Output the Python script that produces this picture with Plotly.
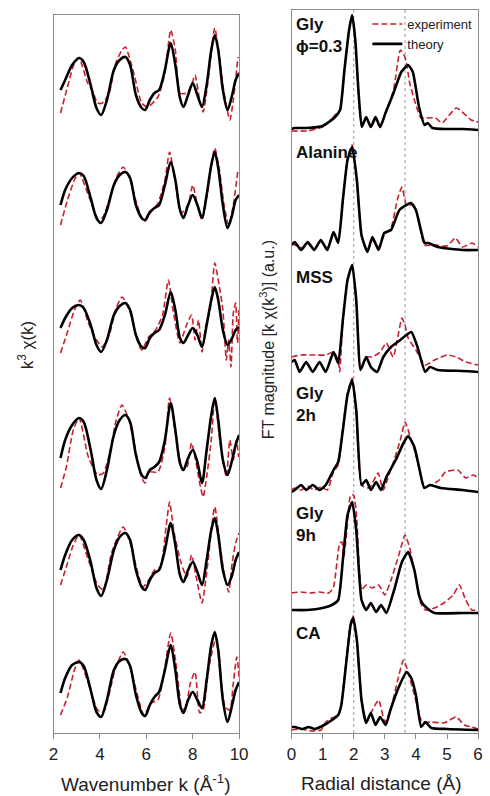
import plotly.graph_objects as go

# ---------------- Left panel: k^3 chi(k) ----------------
k_theory = [2.3, 2.5, 2.8, 3.1, 3.3, 3.6, 3.85, 4.05, 4.3, 4.6, 4.85, 5.1, 5.3, 5.55, 5.8, 5.95,
            6.15, 6.35, 6.55, 6.8, 7.05, 7.25, 7.45, 7.6, 7.8, 8.0, 8.2, 8.4, 8.6, 8.8, 8.95,
            9.1, 9.3, 9.5, 9.7, 9.85, 10.0]

chi_theory_gly03 = [-5, 5, 20, 27, 23, 0, -23, -30, -15, 15, 25, 28, 20, -10, -23, -25, -15, -8, -5, 15, 42,
                    20, -13, -22, -10, 2, -10, -22, 0, 35, 50, 35, -5, -25, -10, 5, 12]
chi_theory_ala = [-5, 10, 22, 27, 24, 2, -18, -23, -10, 15, 25, 28, 22, -5, -18, -20, -12, -8, -5, 15, 38,
                  20, -10, -18, -5, 5, -5, -18, 5, 35, 48, 32, -5, -28, -15, 0, 5]
chi_theory_mss = [-3, 7, 17, 20, 17, 0, -20, -27, -15, 10, 19, 22, 15, -10, -22, -23, -13, -8, -5, 10, 33,
                  15, -13, -18, -10, -3, -10, -22, 0, 25, 38, 25, -5, -20, -13, -5, -2]
chi_theory_gly2h = [-8, 10, 25, 32, 28, 0, -30, -39, -20, 15, 30, 35, 28, -5, -25, -28, -20, -17, -12, 10, 47,
                    20, -13, -20, -8, 0, -12, -33, 0, 35, 52, 30, -10, -25, -10, 5, 15]
chi_theory_gly9h = [-10, 5, 20, 25, 20, -2, -28, -36, -20, 10, 23, 27, 20, -10, -27, -30, -20, -13, -10, 10, 37,
                    15, -15, -22, -10, -2, -12, -25, 0, 30, 42, 25, -10, -25, -15, 0, 8]
chi_theory_ca = [-3, 12, 25, 28, 24, 0, -22, -27, -10, 20, 29, 31, 24, -5, -23, -26, -15, -7, -2, 20, 45,
                 20, -15, -23, -10, -2, -10, -18, 10, 45, 58, 40, -10, -32, -15, 0, 8]

k_exp_gly03 = [2.3, 2.6, 2.9, 3.1, 3.45, 3.7, 3.9, 4.1, 4.4, 4.65, 4.95, 5.1, 5.3, 5.5, 5.8, 6.05, 6.5, 6.8,
               7.05, 7.25, 7.45, 7.75, 7.95, 8.1, 8.3, 8.45, 8.65, 8.95, 9.15, 9.35, 9.6, 9.75, 9.95]
chi_exp_gly03 = [-28, -2, 22, 27, 3, -7, -18, -18, -8, 20, 35, 38, 25, 8, -18, -22, -12, 12, 55, 35, -8, -8,
                 0, 10, -15, -27, 2, 57, 28, -8, -35, -15, 28]
k_exp_ala = [2.3, 2.6, 2.9, 3.1, 3.5, 3.9, 4.1, 4.4, 4.7, 5.0, 5.3, 5.6, 5.9, 6.2, 6.5, 6.8, 7.0, 7.2, 7.5,
             7.8, 8.0, 8.2, 8.4, 8.65, 8.95, 9.15, 9.35, 9.55, 9.75, 9.95]
chi_exp_ala = [-25, 0, 20, 27, 5, -18, -18, 0, 22, 33, 20, -5, -22, -12, -3, 20, 48, 25, -13, -5, 15, -5,
               -20, 10, 52, 30, -5, -25, -5, 30]
k_exp_mss = [2.3, 2.6, 2.9, 3.15, 3.5, 3.85, 4.1, 4.4, 4.7, 4.95, 5.3, 5.6, 5.8, 6.1, 6.4, 6.7, 6.95, 7.15,
             7.45, 7.7, 7.95, 8.1, 8.25, 8.4, 8.55, 8.75, 8.95, 9.15, 9.3, 9.45, 9.55, 9.65, 9.75, 9.85,
             9.93, 10.0]
chi_exp_mss = [-28, -7, 15, 25, 2, -15, -22, -10, 17, 28, 13, -15, -25, -12, -5, 10, 45, 15, -18, -2, 10,
               -15, 5, -27, -2, 15, 62, 38, 15, -35, -15, -42, 12, 22, -18, 18]
k_exp_gly2h = [2.3, 2.55, 2.85, 3.1, 3.5, 3.9, 4.15, 4.45, 4.7, 4.95, 5.25, 5.8, 5.95, 6.1, 6.5, 6.8, 7.0,
               7.3, 7.55, 7.75, 7.95, 8.1, 8.3, 8.45, 8.6, 8.8, 8.95, 9.15, 9.3, 9.45, 9.6, 9.75, 9.88, 9.98]
chi_exp_gly2h = [-38, -17, 20, 32, -7, -25, -23, 0, 30, 45, 30, -28, -33, -22, -22, 3, 52, 10, -20, -17, 7,
                 -7, -33, -47, -27, 10, 52, 13, -10, -27, 10, -10, 10, -7]
k_exp_gly9h = [2.3, 2.55, 2.85, 3.1, 3.5, 3.9, 4.15, 4.5, 5.0, 5.3, 5.85, 6.1, 6.35, 6.6, 6.85, 7.0, 7.2,
               7.5, 7.75, 7.95, 8.15, 8.4, 8.6, 8.95, 9.15, 9.35, 9.55, 9.7, 9.85, 10.0]
chi_exp_gly9h = [-25, -7, 15, 25, 0, -25, -30, 7, 33, 17, -27, -20, -10, -7, 33, 58, 27, -3, -17, 5, -17,
                 -43, -13, 53, 20, -13, -32, -3, 17, 27]
k_exp_ca = [2.3, 2.6, 2.9, 3.1, 3.5, 3.9, 4.15, 4.65, 5.0, 5.3, 5.9, 6.2, 6.5, 6.8, 7.05, 7.3, 7.55, 7.7,
            7.9, 8.1, 8.3, 8.45, 8.7, 9.0, 9.2, 9.4, 9.6, 9.75, 9.9, 10.0]
chi_exp_ca = [-25, -7, 20, 30, 7, -20, -22, 20, 38, 23, -25, -13, -10, 23, 57, 23, -20, -17, 7, 18, -23,
              -20, 23, 52, 13, -17, -20, 7, 33, 13]

chi_offsets = [648, 533, 408, 283, 173, 43]

# ---------------- Right panel: FT magnitude ----------------
ft_labels = ["Gly<br>\u03d5=0.3", "Alanine", "MSS", "Gly<br>2h", "Gly<br>9h", "CA"]
ft_offsets = [605, 483, 361, 243, 121, 5]
shell_positions = [2.0, 3.65]

r_theory_gly03 = [0, 0.1, 0.5, 1.0, 1.2, 1.4, 1.56, 1.7, 1.85, 1.95, 2.05, 2.15, 2.26, 2.4, 2.55, 2.7, 2.85,
                  3.02, 3.28, 3.53, 3.75, 3.9, 4.1, 4.28, 4.38, 4.53, 5.0, 5.5, 6.0]
ft_theory_gly03 = [-1, 0, 0, 2, 6, 11, 18, 58, 98, 113, 88, 38, 1, 11, 1, 11, 1, 15, 35, 56, 63, 56, 21, 3, 5,
                   0, -1, -1, -2]
r_exp_gly03 = [0, 0.5, 1.0, 1.2, 1.4, 1.56, 1.7, 1.85, 1.95, 2.05, 2.15, 2.26, 2.4, 2.55, 2.7, 2.85, 3.02,
               3.28, 3.5, 3.66, 3.8, 4.0, 4.16, 4.3, 4.63, 4.84, 5.3, 5.78, 6.0]
ft_exp_gly03 = [-3, -3, 1, 6, 13, 18, 58, 98, 113, 86, 36, 1, 10, 1, 8, 1, 15, 38, 78, 70, 45, 23, 10, 10,
                10, 5, 20, 8, 6]

r_theory_ala = [0, 0.1, 0.31, 0.52, 0.73, 0.94, 1.15, 1.35, 1.5, 1.65, 1.8, 1.95, 2.1, 2.25, 2.44, 2.6, 2.8,
                2.98, 3.2, 3.47, 3.84, 4.0, 4.28, 4.4, 4.7, 5.5, 6.0]
ft_theory_ala = [5, 8, 0, 8, 0, 10, 0, 18, 7, 50, 90, 103, 70, 15, -2, 13, 0, 17, 20, 40, 47, 40, 7, 7, 3,
                 0, 0]
r_exp_ala = [0, 0.1, 0.31, 0.52, 0.73, 0.94, 1.15, 1.35, 1.5, 1.65, 1.8, 1.95, 2.1, 2.25, 2.44, 2.6, 2.8,
             2.98, 3.2, 3.4, 3.55, 3.7, 3.9, 4.05, 4.28, 4.6, 5.0, 5.27, 5.5, 5.8, 6.0]
ft_exp_ala = [7, 5, 2, 6, 1, 8, 2, 15, 10, 52, 92, 105, 68, 14, 0, 10, 3, 15, 22, 50, 63, 45, 45, 35, 5, 5,
              4, 12, 3, 7, 3]

r_theory_mss = [0, 0.1, 0.26, 0.47, 0.68, 0.9, 1.1, 1.35, 1.5, 1.65, 1.8, 1.95, 2.08, 2.22, 2.4, 2.55,
                2.75, 2.95, 3.2, 3.5, 3.85, 4.05, 4.3, 4.45, 4.7, 5.5, 6.0]
ft_theory_mss = [10, 12, 0, 10, 0, 10, 0, 20, 9, 52, 92, 107, 72, 2, 15, 5, 0, 15, 25, 32, 40, 25, 0, 5, 2,
                 1, 0]
r_exp_mss = [0, 0.3, 0.7, 1.1, 1.35, 1.5, 1.55, 1.65, 1.8, 1.95, 2.08, 2.22, 2.4, 2.6, 2.85, 3.05, 3.27,
             3.55, 3.65, 3.75, 4.0, 4.3, 4.6, 5.0, 5.3, 5.6, 6.0]
ft_exp_mss = [15, 17, 17, 17, 20, 12, 0, 52, 92, 107, 72, 4, 15, 15, 20, 29, 15, 54, 47, 34, 22, 7, 12, 17,
              15, 10, 7]

r_theory_gly2h = [0, 0.1, 0.31, 0.47, 0.68, 0.9, 1.1, 1.35, 1.5, 1.65, 1.8, 1.95, 2.08, 2.25, 2.4, 2.55,
                  2.72, 2.88, 3.05, 3.35, 3.6, 3.75, 3.95, 4.1, 4.27, 4.45, 4.8, 5.5, 6.0]
ft_theory_gly2h = [-2, 0, 5, 0, 5, 0, 5, 20, 28, 60, 95, 110, 80, 5, 10, 0, 8, 0, 13, 30, 47, 54, 43, 23, 2,
                   5, 2, 0, -2]
r_exp_gly2h = [0, 0.1, 0.31, 0.52, 0.73, 0.94, 1.15, 1.35, 1.5, 1.65, 1.8, 1.95, 2.08, 2.25, 2.5, 2.78,
               2.95, 3.1, 3.3, 3.5, 3.65, 3.8, 4.0, 4.15, 4.27, 4.5, 4.75, 4.95, 5.35, 5.6, 5.85, 6.0]
ft_exp_gly2h = [0, 2, 0, 4, 0, 3, 0, 18, 25, 62, 97, 112, 80, 5, 2, 17, 0, 12, 30, 50, 68, 55, 35, 15, 3, 5,
                10, 18, 20, 12, 15, 12]

r_theory_gly9h = [0, 0.5, 1.0, 1.3, 1.5, 1.65, 1.8, 1.95, 2.08, 2.25, 2.4, 2.55, 2.72, 2.88, 3.05, 3.3, 3.55,
                  3.75, 3.95, 4.1, 4.2, 4.35, 4.6, 5.5, 6.0]
ft_theory_gly9h = [2, 2, 4, 7, 12, 52, 97, 110, 82, 12, 2, 9, 0, 7, -1, 22, 50, 60, 42, 17, 9, 4, -1, -1, -1]
r_exp_gly9h = [0, 0.3, 0.6, 0.9, 1.2, 1.35, 1.55, 1.62, 1.68, 1.78, 1.9, 2.0, 2.1, 2.25, 2.4, 2.6, 2.8, 3.0,
               3.2, 3.45, 3.65, 3.8, 4.0, 4.15, 4.3, 4.6, 4.9, 5.2, 5.4, 5.6, 5.8, 6.0]
ft_exp_gly9h = [19, 20, 19, 20, 19, 25, 69, 70, 55, 82, 117, 117, 92, 22, 27, 24, 27, 17, 32, 57, 77, 64, 32,
                9, 2, 4, 9, 17, 27, 12, 2, 2]

r_theory_ca = [0, 0.1, 0.35, 0.55, 0.75, 1.05, 1.3, 1.5, 1.6, 1.75, 1.9, 1.98, 2.1, 2.25, 2.4, 2.55, 2.7,
               2.85, 3.03, 3.18, 3.45, 3.7, 3.85, 4.0, 4.17, 4.3, 4.5, 5.0, 6.0]
ft_theory_ca = [1, 1, -1, 1, -1, 3, 8, 13, 23, 63, 103, 110, 88, 28, 5, 15, 3, 11, 3, 18, 41, 56, 50, 33, 1,
                6, 0, -1, -2]
r_exp_ca = [0, 0.3, 0.6, 0.95, 1.1, 1.3, 1.5, 1.6, 1.75, 1.9, 1.98, 2.1, 2.25, 2.4, 2.55, 2.8, 3.0, 3.18,
            3.4, 3.6, 3.75, 3.95, 4.2, 4.5, 4.9, 5.3, 5.55, 5.8, 6.0]
ft_exp_ca = [-2, -1, -3, -2, 6, 10, 13, 23, 65, 105, 112, 88, 28, 6, 15, 28, 6, 18, 46, 68, 56, 33, 6, 6, 5,
             11, 3, 1, -1]

k_tick_vals = [2, 4, 6, 8, 10]
r_tick_vals = [0, 1, 2, 3, 4, 5, 6]

chi_theory = [chi_theory_gly03, chi_theory_ala, chi_theory_mss, chi_theory_gly2h, chi_theory_gly9h, chi_theory_ca]
chi_exp = [(k_exp_gly03, chi_exp_gly03), (k_exp_ala, chi_exp_ala), (k_exp_mss, chi_exp_mss),
           (k_exp_gly2h, chi_exp_gly2h), (k_exp_gly9h, chi_exp_gly9h), (k_exp_ca, chi_exp_ca)]
ft_theory = [(r_theory_gly03, ft_theory_gly03), (r_theory_ala, ft_theory_ala), (r_theory_mss, ft_theory_mss),
             (r_theory_gly2h, ft_theory_gly2h), (r_theory_gly9h, ft_theory_gly9h), (r_theory_ca, ft_theory_ca)]
ft_exp = [(r_exp_gly03, ft_exp_gly03), (r_exp_ala, ft_exp_ala), (r_exp_mss, ft_exp_mss),
          (r_exp_gly2h, ft_exp_gly2h), (r_exp_gly9h, ft_exp_gly9h), (r_exp_ca, ft_exp_ca)]

RED = "#c8202e"
BLACK = "#000000"
FONT = "Liberation Sans, Arial, sans-serif"
W, H = 490, 796

fig = go.Figure()

for i in range(6):
    off = chi_offsets[i]
    kx, ky = chi_exp[i]
    fig.add_trace(go.Scatter(x=kx, y=[v + off for v in ky], mode="lines", xaxis="x", yaxis="y",
                             line=dict(color=RED, width=1.6, dash="6px,3px", shape="spline", smoothing=0.6),
                             showlegend=False, hoverinfo="skip"))
    fig.add_trace(go.Scatter(x=k_theory, y=[v + off for v in chi_theory[i]], mode="lines", xaxis="x", yaxis="y",
                             line=dict(color=BLACK, width=2.6, shape="spline", smoothing=0.8),
                             showlegend=False, hoverinfo="skip"))

for i in range(6):
    off = ft_offsets[i]
    rx, ry = ft_exp[i]
    tx, ty = ft_theory[i]
    fig.add_trace(go.Scatter(x=rx, y=[v + off for v in ry], mode="lines", xaxis="x2", yaxis="y2",
                             name="experiment",
                             line=dict(color=RED, width=1.6, dash="6px,3px", shape="spline", smoothing=0.5),
                             showlegend=(i == 0), hoverinfo="skip"))
    fig.add_trace(go.Scatter(x=tx, y=[v + off for v in ty], mode="lines", xaxis="x2", yaxis="y2",
                             name="theory",
                             line=dict(color=BLACK, width=2.6, shape="spline", smoothing=0.5),
                             showlegend=(i == 0), hoverinfo="skip"))

def px_x(p):
    return p / W

def px_y(p):
    return 1 - p / H

axis_common = dict(showgrid=False, zeroline=False, showline=True, linecolor="#8c8c8c", linewidth=1.3,
                   mirror=True)

fig.update_layout(
    width=W, height=H,
    margin=dict(l=0, r=0, t=0, b=0),
    paper_bgcolor="white", plot_bgcolor="white",
    font=dict(family=FONT, size=17, color="#222222"),
    xaxis=dict(domain=[px_x(50), px_x(241)], range=[2, 10], tickvals=k_tick_vals, ticks="outside",
               ticklen=5, tickcolor="#8c8c8c", tickfont=dict(size=17, color="#222222"), **axis_common),
    yaxis=dict(domain=[px_y(733), px_y(15)], range=[0, 718], showticklabels=False, ticks="", **axis_common),
    xaxis2=dict(domain=[px_x(295), px_x(487)], range=[0, 6], tickvals=r_tick_vals, ticks="outside",
                ticklen=5, tickcolor="#8c8c8c", tickfont=dict(size=17, color="#222222"), anchor="y2",
                **axis_common),
    yaxis2=dict(domain=[px_y(733), px_y(10)], range=[0, 723], showticklabels=False, ticks="", anchor="x2",
                **axis_common),
    legend=dict(x=px_x(373), y=px_y(9), xanchor="left", yanchor="top", bgcolor="rgba(0,0,0,0)",
                font=dict(size=13, color="#222222"), tracegroupgap=0, itemwidth=30),
    showlegend=True,
)

for xv in shell_positions:
    fig.add_shape(type="line", xref="x2", yref="y2", x0=xv, x1=xv, y0=0, y1=723,
                  line=dict(color="#999999", width=1, dash="dot"), layer="below")

label_pix = [24, 152, 277, 393, 513, 633]
for i, lab in enumerate(ft_labels):
    fig.add_annotation(x=px_x(297), y=px_y(label_pix[i] - 11), xref="paper", yref="paper",
                       text="<b>" + lab + "</b>", showarrow=False, xanchor="left", yanchor="top",
                       align="left", font=dict(size=17, color="#111111"))

fig.add_annotation(x=px_x(145), y=px_y(783), xref="paper", yref="paper", xanchor="center", yanchor="middle",
                   text="Wavenumber k (\u00c5<sup>-1</sup>)", showarrow=False,
                   font=dict(size=19, color="#222222"))
fig.add_annotation(x=px_x(388), y=px_y(783), xref="paper", yref="paper", xanchor="center", yanchor="middle",
                   text="Radial distance (\u00c5)", showarrow=False,
                   font=dict(size=19, color="#222222"))
fig.add_annotation(x=px_x(22), y=px_y(345), xref="paper", yref="paper", xanchor="center", yanchor="middle",
                   text="k<sup>3</sup> \u03c7(k)", showarrow=False, textangle=-90,
                   font=dict(size=17, color="#222222"))
fig.add_annotation(x=px_x(270), y=px_y(340), xref="paper", yref="paper", xanchor="center", yanchor="middle",
                   text="FT magnitude [k \u03c7(k<sup>3</sup>)] (a.u.)", showarrow=False, textangle=-90,
                   font=dict(size=16, color="#222222"))

fig.write_html("out.html")
